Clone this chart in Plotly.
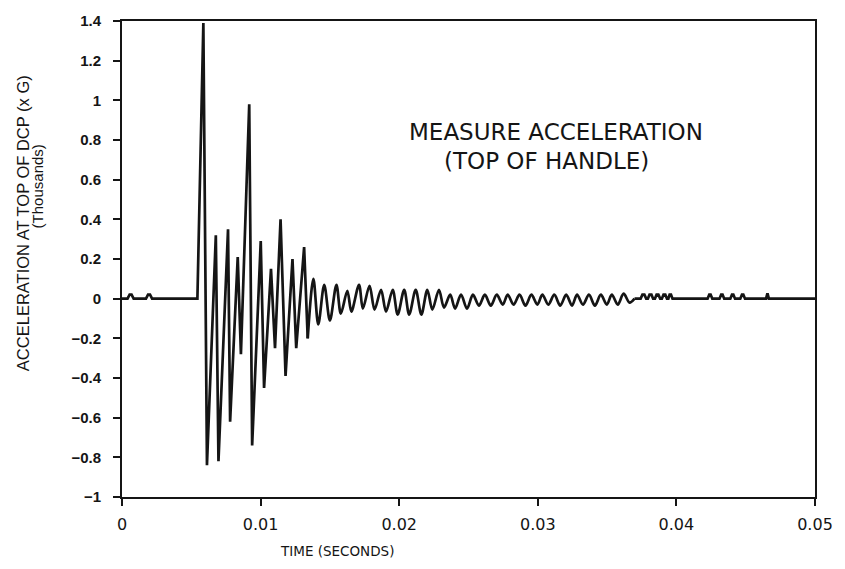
import plotly.graph_objects as go

# Acceleration record at the top of the DCP handle (thousands of g) vs time (s)
time_s = [
    0.0, 0.00040, 0.00055, 0.00069, 0.00084, 0.00173, 0.00188, 0.00202,
    0.00217, 0.00544,
    0.00587, 0.00613, 0.00677, 0.00696, 0.00765, 0.00780, 0.00835, 0.00858,
    0.00918, 0.00939, 0.01001, 0.01025, 0.01075, 0.01104, 0.01144, 0.01180,
    0.01230, 0.01257, 0.01314, 0.01340, 0.01381, 0.01416, 0.01459, 0.01500,
    0.01547, 0.01579, 0.01626, 0.01655, 0.01710, 0.01738, 0.01786, 0.01822,
    0.01869, 0.01905, 0.01953, 0.01989, 0.02036, 0.02072, 0.02119, 0.02160,
    0.02203, 0.02239, 0.02287, 0.02323,
    0.02368, 0.02403, 0.02446, 0.02489, 0.02532, 0.02575, 0.02618, 0.02661,
    0.02704, 0.02747, 0.02783, 0.02825, 0.02868, 0.02911, 0.02954, 0.02997,
    0.03033, 0.03076, 0.03119, 0.03162, 0.03205, 0.03247, 0.03283, 0.03326,
    0.03369, 0.03412, 0.03455, 0.03498, 0.03534, 0.03577, 0.03619, 0.03662,
    0.03698,
    0.03742, 0.03755, 0.03769, 0.03782, 0.03794, 0.03806, 0.03820, 0.03832,
    0.03845, 0.03857, 0.03870, 0.03883, 0.03895, 0.03907, 0.03920, 0.03932,
    0.03942, 0.03951, 0.03961, 0.03972,
    0.04225, 0.04237, 0.04247, 0.04259, 0.04311, 0.04323, 0.04333, 0.04345,
    0.04389, 0.04401, 0.04411, 0.04423, 0.04461, 0.04473, 0.04483, 0.04495,
    0.04647, 0.04655, 0.04659, 0.04667,
    0.05,
]
accel_k = [
    0.0, 0.0, 0.02, 0.02, 0.0, 0.0, 0.02, 0.02,
    0.0, 0.0,
    1.39, -0.84, 0.32, -0.82, 0.35, -0.62, 0.21, -0.28,
    0.98, -0.74, 0.29, -0.45, 0.15, -0.25, 0.40, -0.39,
    0.20, -0.25, 0.26, -0.20, 0.10, -0.13, 0.07, -0.11,
    0.07, -0.075, 0.04, -0.065, 0.07, -0.05, 0.065, -0.055,
    0.045, -0.065, 0.045, -0.08, 0.045, -0.08, 0.045, -0.08,
    0.045, -0.055, 0.045, -0.045,
    0.02, -0.05, 0.02, -0.05, 0.02, -0.035, 0.02, -0.035,
    0.02, -0.03, 0.02, -0.03, 0.02, -0.035, 0.02, -0.03,
    0.02, -0.03, 0.02, -0.035, 0.02, -0.035, 0.02, -0.03,
    0.02, -0.035, 0.02, -0.03, 0.02, -0.03, 0.025, -0.02,
    0.0,
    0.0, 0.02, 0.02, 0.0, 0.0, 0.02, 0.02, 0.0,
    0.0, 0.02, 0.02, 0.0, 0.0, 0.02, 0.02, 0.0,
    0.0, 0.02, 0.02, 0.0,
    0.0, 0.02, 0.02, 0.0, 0.0, 0.02, 0.02, 0.0,
    0.0, 0.02, 0.02, 0.0, 0.0, 0.02, 0.02, 0.0,
    0.0, 0.022, 0.022, 0.0,
    0.0,
]

# the decaying ringing between the impact and the quiet tail is drawn smoothed
ring_start, ring_end = 0.01340, 0.03698

x_ticks = [0, 0.01, 0.02, 0.03, 0.04, 0.05]
x_tick_text = ["0", "0.01", "0.02", "0.03", "0.04", "0.05"]
y_ticks = [-1, -0.8, -0.6, -0.4, -0.2, 0, 0.2, 0.4, 0.6, 0.8, 1, 1.2, 1.4]
y_tick_text = ["−1", "−0.8", "−0.6", "−0.4", "−0.2", "0", "0.2", "0.4",
               "0.6", "0.8", "1", "1.2", "1.4"]

ink = "#151515"


def segment(lo, hi):
    pts = [(t, a) for t, a in zip(time_s, accel_k) if lo <= t <= hi]
    return [p[0] for p in pts], [p[1] for p in pts]


fig = go.Figure()
for lo, hi, shape in [(0.0, ring_start, "linear"),
                      (ring_start, ring_end, "spline"),
                      (ring_end, 0.05, "linear")]:
    xs, ys = segment(lo, hi)
    line = dict(color=ink, width=2.7, shape=shape)
    if shape == "spline":
        line["smoothing"] = 0.9
    fig.add_trace(go.Scatter(x=xs, y=ys, mode="lines", line=line,
                             hoverinfo="skip", showlegend=False))

fig.update_layout(
    width=845, height=569,
    margin=dict(l=122, r=24, t=17, b=72),
    paper_bgcolor="white", plot_bgcolor="white",
    xaxis=dict(
        range=[0, 0.05], tickvals=x_ticks, ticktext=x_tick_text,
        showline=True, linecolor=ink, linewidth=2, mirror=True,
        ticks="outside", ticklen=7, tickwidth=1.5, tickcolor=ink,
        showgrid=False, zeroline=False, ticklabelstandoff=5,
        tickfont=dict(family="DejaVu Sans", size=16, color=ink),
    ),
    yaxis=dict(
        range=[-1, 1.4], tickvals=y_ticks, ticktext=y_tick_text,
        showline=True, linecolor=ink, linewidth=2, mirror=True,
        ticks="outside", ticklen=7, tickwidth=1.5, tickcolor=ink,
        showgrid=False, zeroline=False, ticklabelstandoff=9,
        tickfont=dict(family="Liberation Sans", size=15, color=ink,
                      weight="bold"),
    ),
    annotations=[
        dict(text="ACCELERATION AT TOP OF DCP (x G)", xref="paper", yref="paper",
             x=-0.1431, y=0.575, textangle=-90, showarrow=False,
             xanchor="center", yanchor="middle",
             font=dict(family="Liberation Sans", size=16.5, color=ink)),
        dict(text="(Thousands)", xref="paper", yref="paper",
             x=-0.1216, y=0.652, textangle=-90, showarrow=False,
             xanchor="center", yanchor="middle",
             font=dict(family="Liberation Sans", size=15, color=ink)),
        dict(text="TIME (SECONDS)", xref="paper", yref="paper",
             x=0.3104, y=-0.1125, showarrow=False,
             xanchor="center", yanchor="middle",
             font=dict(family="DejaVu Sans", size=13.5, color=ink)),
        dict(text="MEASURE ACCELERATION", xref="paper", yref="paper",
             x=0.6266, y=0.7667, showarrow=False,
             xanchor="center", yanchor="middle",
             font=dict(family="DejaVu Sans", size=23, color=ink)),
        dict(text="(TOP OF HANDLE)", xref="paper", yref="paper",
             x=0.612, y=0.706, showarrow=False,
             xanchor="center", yanchor="middle",
             font=dict(family="DejaVu Sans", size=23, color=ink)),
    ],
)

fig.write_html("out.html")
